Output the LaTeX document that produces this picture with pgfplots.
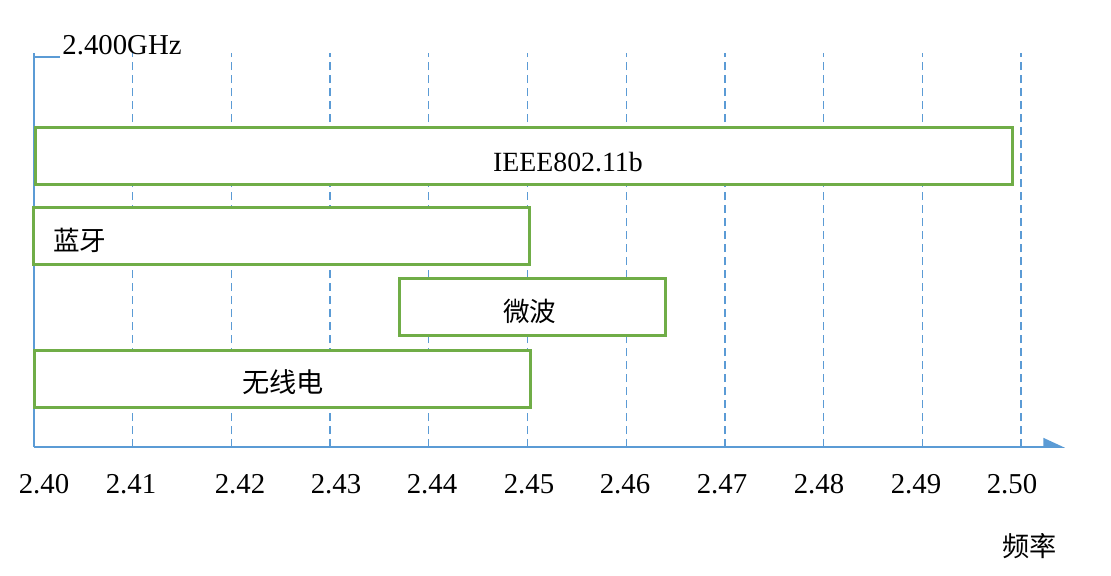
\documentclass[border=0pt]{standalone}
\usepackage{pgfplots}
\pgfplotsset{compat=1.18}
\usetikzlibrary{arrows.meta}
\usepackage{fontspec}
\setmainfont{Liberation Serif}
\newfontfamily\cjk{Noto Sans CJK SC}
\definecolor{axblue}{HTML}{5B9BD5}
\definecolor{boxgreen}{HTML}{70AD47}

\begin{document}
\fontsize{14.4}{17}\selectfont
\begin{tikzpicture}
\begin{axis}[
    scale only axis,
    width=515.5pt,
    height=197pt,
    xmin=2.40, xmax=2.50446,
    ymin=0, ymax=394,
    axis lines=left,
    axis line style={axblue, line width=0.75pt},
    x axis line style={-{Triangle[harpoon,length=10pt,width=9pt]}},
    y axis line style={-},
    ytick=\empty,
    % labels sit a little off the grid lines, as in the reference
    xtick={2.40101,2.40983,2.42087,2.43060,2.44032,2.45015,2.45988,2.46971,2.47953,2.48936,2.49909},
    xticklabels={2.40,2.41,2.42,2.43,2.44,2.45,2.46,2.47,2.48,2.49,2.50},
    minor xtick={2.41,2.42,2.43,2.44,2.45,2.46,2.47,2.48,2.49,2.50},
    xminorgrids,
    minor grid style={axblue, line width=0.6pt, dash pattern=on 4pt off 2.5pt},
    major tick length=0pt,
    minor tick length=0pt,
    xticklabel style={anchor=base, yshift=-23pt},
    clip=false,
]

% IEEE802.11b
\addplot[draw=boxgreen, line width=1.5pt, fill=white]
    coordinates {(2.4002,263) (2.4991,263) (2.4991,320) (2.4002,320)} -- cycle;
% 蓝牙
\addplot[draw=boxgreen, line width=1.5pt, fill=white]
    coordinates {(2.4000,183) (2.4502,183) (2.4502,240) (2.4000,240)} -- cycle;
% 微波
\addplot[draw=boxgreen, line width=1.5pt, fill=white]
    coordinates {(2.4370,112) (2.4640,112) (2.4640,169) (2.4370,169)} -- cycle;
% 无线电
\addplot[draw=boxgreen, line width=1.5pt, fill=white]
    coordinates {(2.4001,40) (2.4503,40) (2.4503,97) (2.4001,97)} -- cycle;

\node[font=\fontsize{13.9}{16}\selectfont] at (axis cs:2.45410,285) {IEEE802.11b};
\node[font=\cjk\fontsize{13.3}{16}\selectfont] at (axis cs:2.40466,207) {蓝牙};
\node[font=\cjk\fontsize{13.3}{16}\selectfont] at (axis cs:2.45025,136) {微波};
\node[font=\cjk\fontsize{13.6}{16}\selectfont] at (axis cs:2.42523,65) {无线电};
\node at (axis cs:2.40892,402) {2.400GHz};
\node[font=\cjk\fontsize{13.6}{16}\selectfont] at (axis cs:2.50091,-99) {频率};
\draw[axblue, line width=0.75pt] (axis cs:2.40,390) -- (axis cs:2.40263,390);

% page size
\path (axis cs:2.40,0) ++(-17pt,-64pt) rectangle ++(555.5pt,287.5pt);
\end{axis}
\end{tikzpicture}
\end{document}
